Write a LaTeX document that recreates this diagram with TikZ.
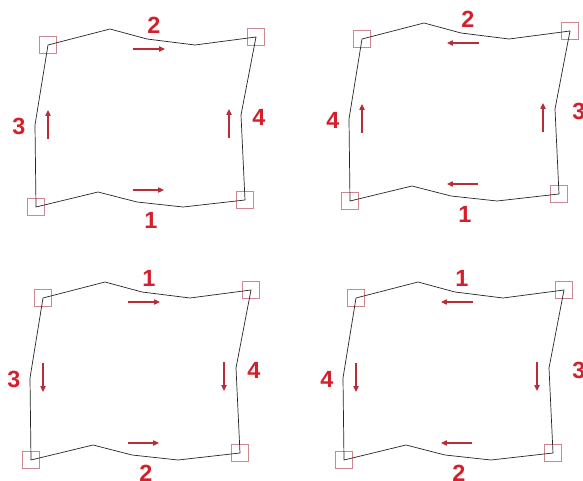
\documentclass[tikz,border=0pt]{standalone}
\usepackage{fontspec}
\newfontfamily\digitfont{Liberation Sans}
\usetikzlibrary{arrows.meta}
\definecolor{numred}{RGB}{212,32,44}
\definecolor{arrowred}{RGB}{185,45,55}
\definecolor{cornerpink}{RGB}{205,135,145}
\tikzstyle{corner}=[draw=cornerpink,line width=0.7pt,rectangle,minimum size=0.51cm,inner sep=0pt]
\tikzstyle{edge}=[line width=0.6pt,black!85]
\tikzstyle{flow}=[draw=arrowred,line width=0.9pt]
\tikzstyle{num}=[font=\digitfont\bfseries\fontsize{20}{20}\selectfont,text=numred,inner sep=0pt]
% #1 name, #2 shift, #3 top, #4 bottom, #5 left, #6 right,
% #7 horizontal arrows, #8 vertical arrows, #9 right label offset
\newcommand{\sheet}[9]{%
  \begin{scope}[shift={#2}]
    \node[corner] (#1tl) at (48,45) {};
    \node[corner] (#1tr) at (256,37) {};
    \node[corner] (#1br) at (245,200) {};
    \node[corner] (#1bl) at (36,207) {};
    \draw[edge] (#1tl.center) -- (110,29) -- (147,39) -- (195,45) -- (#1tr.center)
      -- (241,115) -- (#1br.center) -- (183,207) -- (137,202) -- (98,192)
      -- (#1bl.center) -- (35,125) -- cycle;
    \node[num] (#1top) at (154,25) {#3};
    \node[num] (#1bot) at (151,220) {#4};
    \node[num] (#1lft) at (19,126) {#5};
    \node[num] (#1rgt) at ({259+#9},117) {#6};
    \draw[flow,#7] (133,49) -- (165,49);
    \draw[flow,#7] (133,190) -- (164,190);
    \draw[flow,#8] (48,139) -- (48,110);
    \draw[flow,#8] (229,138) -- (229,109);
  \end{scope}}

\begin{document}
\begin{tikzpicture}[x=0.03cm,y=-0.03cm,>={Triangle[length=5pt,width=4.5pt]}]
  \useasboundingbox[fill=white] (0,0) rectangle (583,481);
  \clip (0,0) rectangle (583,481);
  \sheet{A}{(0,0)}{2}{1}{3}{4}{->}{->}{0}
  \sheet{B}{(314,-6)}{2}{1}{4}{3}{<-}{->}{6}
  \sheet{C}{(-5,253)}{1}{2}{3}{4}{->}{<-}{0}
  \sheet{D}{(308,253)}{1}{2}{4}{3}{<-}{<-}{12}
\end{tikzpicture}
\end{document}
